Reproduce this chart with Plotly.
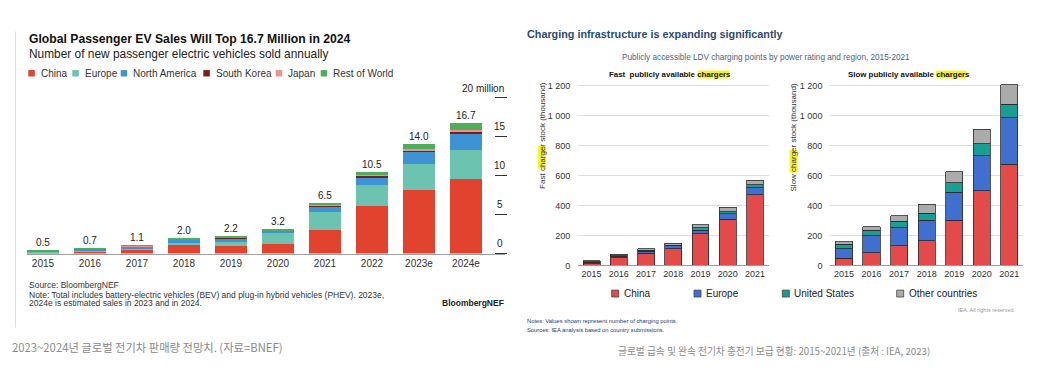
import plotly.graph_objects as go

W, H = 1048, 379

# ---------------- Left chart data (BloombergNEF, million vehicles) ----------------
ev_years = ["2015", "2016", "2017", "2018", "2019", "2020", "2021", "2022", "2023e", "2024e"]
ev_china = [0.20, 0.33, 0.55, 1.05, 1.00, 1.20, 3.00, 6.10, 8.10, 9.60]
ev_europe = [0.15, 0.15, 0.20, 0.35, 0.55, 1.40, 2.30, 2.70, 3.40, 3.70]
ev_north_america = [0.11, 0.16, 0.20, 0.40, 0.45, 0.35, 0.75, 1.05, 1.60, 2.10]
ev_south_korea = [0.01, 0.01, 0.02, 0.05, 0.05, 0.05, 0.10, 0.15, 0.20, 0.30]
ev_japan = [0.02, 0.02, 0.05, 0.05, 0.05, 0.03, 0.05, 0.10, 0.10, 0.15]
ev_rest_of_world = [0.01, 0.03, 0.08, 0.10, 0.10, 0.17, 0.30, 0.40, 0.60, 0.85]
ev_totals = [0.5, 0.7, 1.1, 2.0, 2.2, 3.2, 6.5, 10.5, 14.0, 16.7]
ev_tick_vals = [0, 5, 10, 15, 20]
ev_tick_text = ["0", "5", "10", "15", "20 million"]

# ---------------- Right chart data (IEA, thousand charging points) ----------------
ch_years = ["2015", "2016", "2017", "2018", "2019", "2020", "2021"]
fast_china = [12, 50, 82, 110, 210, 309, 470]
fast_europe = [9, 12, 14, 20, 25, 35, 47]
fast_us = [3, 3, 4, 6, 17, 15, 22]
fast_other = [6, 10, 10, 11, 18, 28, 30]
slow_china = [48, 86, 130, 165, 301, 498, 676]
slow_europe = [62, 116, 125, 136, 186, 235, 309]
slow_us = [30, 33, 39, 48, 64, 79, 90]
slow_other = [18, 22, 38, 58, 75, 96, 131]
ch_tick_vals = [0, 200, 400, 600, 800, 1000, 1200]
ch_tick_text = ["0", "200", "400", "600", "800", "1 000", "1 200"]


def X(px):
    return px / W


def Y(py):
    return 1 - py / H


FONT = "Liberation Sans, Arial, sans-serif"
KFONT = "Noto Sans CJK KR, sans-serif"

fig = go.Figure()

ev_series = [
    ("China", "#e1432f", ev_china),
    ("Europe", "#6cc3b0", ev_europe),
    ("North America", "#3d93d3", ev_north_america),
    ("South Korea", "#7b1d1d", ev_south_korea),
    ("Japan", "#e8958d", ev_japan),
    ("Rest of World", "#4fae5b", ev_rest_of_world),
]
for name, color, vals in ev_series:
    fig.add_trace(go.Bar(x=ev_years, y=vals, name=name, width=0.68,
                         marker=dict(color=color, line=dict(width=0)),
                         xaxis="x", yaxis="y", showlegend=False))

ch_series = [
    ("China", "#e34b4b", fast_china, slow_china),
    ("Europe", "#4070cf", fast_europe, slow_europe),
    ("United States", "#17a091", fast_us, slow_us),
    ("Other countries", "#ababab", fast_other, slow_other),
]
for name, color, fv, sv in ch_series:
    fig.add_trace(go.Bar(x=ch_years, y=fv, name=name, width=0.62,
                         marker=dict(color=color, line=dict(color="#2a2a2a", width=0.8)),
                         xaxis="x2", yaxis="y2", showlegend=False))
    fig.add_trace(go.Bar(x=ch_years, y=sv, name=name, width=0.62,
                         marker=dict(color=color, line=dict(color="#2a2a2a", width=0.8)),
                         xaxis="x3", yaxis="y3", showlegend=False))

ann = []
shapes = []


def text(x, y, t, size, color="#222", xanchor="left", yanchor="middle", font=FONT, angle=0, **kw):
    ann.append(dict(x=X(x), y=Y(y), xref="paper", yref="paper", text=t, showarrow=False,
                    xanchor=xanchor, yanchor=yanchor, textangle=angle,
                    font=dict(size=size, color=color, family=font), **kw))


def rect(x0, y0, x1, y1, fill, line=None, layer="above"):
    shapes.append(dict(type="rect", xref="paper", yref="paper", x0=X(x0), x1=X(x1), y0=Y(y1), y1=Y(y0),
                       fillcolor=fill, line=dict(width=0.8 if line else 0, color=line or fill), layer=layer))


# ---------- Left chart decoration ----------
shapes.append(dict(type="line", xref="paper", yref="paper", x0=X(15.5), x1=X(15.5), y0=Y(332), y1=Y(32),
                   line=dict(color="#dddddd", width=1)))
text(26.5, 40, "<b>Global Passenger EV Sales Will Top 16.7 Million in 2024</b>", 12.2, "#111")
text(26.5, 54.5, "Number of new passenger electric vehicles sold annually", 11.9, "#222")
leg_x = [28.3, 72.3, 120.7, 203.3, 275.7, 320.7]
for (name, color, _), lx in zip(ev_series, leg_x):
    rect(lx, 71, lx + 6.5, 77.5, color)
    text(lx + 10.5, 74, name, 10, "#333")

for v, t in zip(ev_tick_vals, ev_tick_text):
    if v == 20:
        ann.append(dict(x=X(506), y=v, xref="paper", yref="y", text=t, showarrow=False,
                        xanchor="right", yanchor="bottom", yshift=2, font=dict(size=10, color="#222", family=FONT)))
    else:
        ann.append(dict(x=X(500), y=v, xref="paper", yref="y", text=t, showarrow=False,
                        xanchor="center", yanchor="bottom", yshift=3, font=dict(size=10, color="#222", family=FONT)))

for i, tot in enumerate(ev_totals):
    ann.append(dict(x=i, y=tot, xref="x", yref="y", text=f"{tot:.1f}", showarrow=False,
                    xanchor="center", yanchor="bottom", yshift=0, font=dict(size=10, color="#222", family=FONT)))

text(26.5, 288.5, "Source: BloombergNEF", 8.5, "#333")
text(26.5, 299, "Note: Total includes battery-electric vehicles (BEV) and plug-in hybrid vehicles (PHEV). 2023e,", 8.5, "#333")
text(26.5, 307.5, "2024e is estimated sales in 2023 and in 2024.", 8.5, "#333")
text(506, 307.5, "<b>BloombergNEF</b>", 8.5, "#222", xanchor="right")
text(10, 351.5, "2023~2024년 글로벌 전기차 판매량 전망치. (자료=BNEF)", 11.3, "#8a8a8a", font=KFONT)

# ---------- Right chart decoration ----------
text(525, 34, "<b>Charging infrastructure is expanding significantly</b>", 10.8, "#2b4a6e")
text(766, 58.5, "Publicly accessible LDV charging points by power rating and region, 2015-2021", 8.2, "#4a6585",
     xanchor="center")
rect(697.7, 71.5, 729.3, 79.5, "#f6f52a", layer="below")
rect(936, 71.5, 966.7, 79.5, "#f6f52a", layer="below")
text(670.4, 75.5, "<b>Fast  publicly available chargers</b>", 7.9, "#111", xanchor="center")
text(908.5, 75.5, "<b>Slow publicly available chargers</b>", 7.9, "#111", xanchor="center")
rect(538, 148, 546, 171, "#f6f52a", layer="below")
rect(789.5, 152, 797.5, 175, "#f6f52a", layer="below")
text(541.7, 137, "Fast charger stock (thousand)", 8, "#333", xanchor="center", angle=-90)
text(793.3, 139, "Slow charger stock (thousand)", 8, "#333", xanchor="center", angle=-90)

rleg_x = [611.7, 694, 782.3, 896.7]
for (name, color, _, _), lx in zip(ch_series, rleg_x):
    rect(lx, 294, lx + 7, 301, color, line="#444")
    text(lx + 10, 297.5, name, 10, "#222")

text(1017.5, 314, "IEA. All rights reserved.", 5.5, "#999", xanchor="right")
text(525, 325, "Notes: Values shown represent number of charging points.", 5.8, "#1f3a6e")
text(525, 334.3, "Sources: IEA analysis based on country submissions.", 5.8, "#1f3a6e")
text(774, 356, "글로벌 급속 및 완속 전기차 충전기 보급 현황: 2015~2021년 (출처 : IEA, 2023)", 9.7, "#8a8a8a",
     xanchor="center", font=KFONT)

ch_y_dom = [Y(269), Y(269 - 1230 * (269 - 86.7) / 1200)]
ch_x_common = dict(type="category", range=[-0.5, 6.5], showline=True, linecolor="#9a9a9a", linewidth=1,
                   ticks="", showgrid=False, tickfont=dict(size=9, color="#333", family=FONT))
ch_y_common = dict(range=[0, 1230], domain=ch_y_dom, showgrid=True, gridcolor="#dedede", gridwidth=1,
                   zeroline=False, showline=False, tickvals=ch_tick_vals, ticktext=ch_tick_text,
                   ticks="outside", ticklen=5, tickcolor="rgba(0,0,0,0)",
                   tickfont=dict(size=9, color="#333", family=FONT))

fig.update_layout(
    width=W, height=H, margin=dict(l=0, r=0, t=0, b=0),
    paper_bgcolor="white", plot_bgcolor="white",
    barmode="stack", showlegend=False,
    font=dict(family=FONT),
    xaxis=dict(type="category", domain=[X(27), X(505)], range=[-0.34, 9.83], showline=True,
               linecolor="#a0a0a0", linewidth=1, ticks="", showgrid=False, anchor="y",
               tickfont=dict(size=10, color="#333", family=FONT)),
    yaxis=dict(domain=[Y(257), Y(99)], range=[0, 20], anchor="free", position=X(494), side="right",
               showgrid=False, zeroline=False, showline=False, tickvals=ev_tick_vals,
               showticklabels=False, ticks="outside", ticklen=12, tickcolor="#333", tickwidth=1),
    xaxis2=dict(domain=[X(578), X(768.6)], anchor="y2", **ch_x_common),
    yaxis2=dict(anchor="x2", **ch_y_common),
    xaxis3=dict(domain=[X(830.2), X(1023.1)], anchor="y3", **ch_x_common),
    yaxis3=dict(anchor="x3", **ch_y_common),
    annotations=ann, shapes=shapes,
)

fig.write_html("out.html", config={"displayModeBar": False},
               post_script="document.body.style.margin='0';document.body.style.overflow='hidden';")
